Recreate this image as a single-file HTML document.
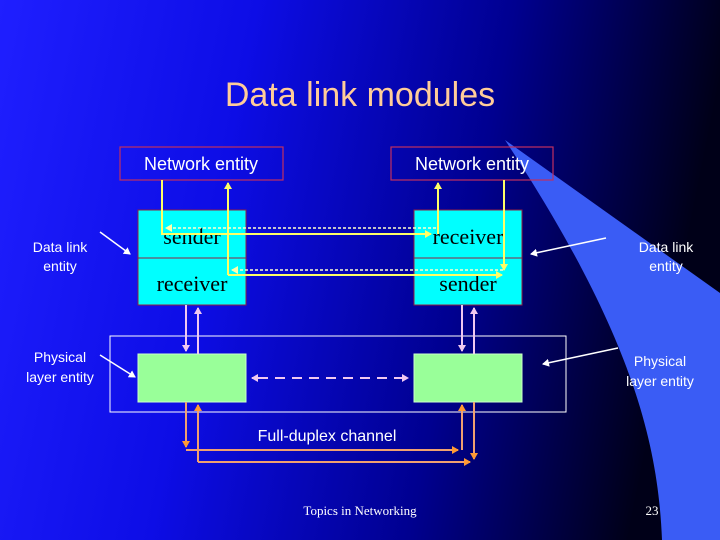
<!DOCTYPE html>
<html><head><meta charset="utf-8"><style>
html,body{margin:0;padding:0;width:720px;height:540px;overflow:hidden}
</style></head><body>
<svg width="720" height="540" viewBox="0 0 720 540" xmlns="http://www.w3.org/2000/svg">
<defs>
<linearGradient id="bg" x1="0" y1="0" x2="1" y2="0.15">
<stop offset="0" stop-color="#1f1fff"/>
<stop offset="0.35" stop-color="#0d0de6"/>
<stop offset="0.7" stop-color="#000090"/>
<stop offset="1" stop-color="#000018"/>
</linearGradient>
<marker id="ay" markerWidth="8" markerHeight="8" refX="6" refY="4" orient="auto" markerUnits="userSpaceOnUse"><path d="M0,0 L7,4 L0,8 Z" fill="#ffff66"/></marker>
<marker id="aw" markerWidth="8" markerHeight="8" refX="6" refY="4" orient="auto" markerUnits="userSpaceOnUse"><path d="M0,0 L7,4 L0,8 Z" fill="#ffffff"/></marker>
<marker id="ap" markerWidth="8" markerHeight="8" refX="6" refY="4" orient="auto" markerUnits="userSpaceOnUse"><path d="M0,0 L7,4 L0,8 Z" fill="#f0c8f0"/></marker>
<marker id="ao" markerWidth="8" markerHeight="8" refX="6" refY="4" orient="auto" markerUnits="userSpaceOnUse"><path d="M0,0 L7,4 L0,8 Z" fill="#ff9933"/></marker>
<marker id="ad" markerWidth="8" markerHeight="8" refX="6" refY="4" orient="auto" markerUnits="userSpaceOnUse"><path d="M0,0 L7,4 L0,8 Z" fill="#ffffaa"/></marker>
</defs>
<rect width="720" height="540" fill="url(#bg)"/>
<path d="M505,140 L720,293 L720,540 L662,540 C658,440 630,330 505,140 Z" fill="#3a5cf5"/>
<text x="360" y="106" font-family="Liberation Sans, sans-serif" font-size="34" fill="#ffcc99" text-anchor="middle">Data link modules</text>

<g font-family="Liberation Sans, sans-serif" font-size="18" fill="#fff" text-anchor="middle">
<rect x="120" y="147" width="163" height="33" fill="none" stroke="#c03060" stroke-width="1.2"/>
<text x="201" y="170">Network entity</text>
<rect x="391" y="147" width="162" height="33" fill="none" stroke="#c03060" stroke-width="1.2"/>
<text x="472" y="170">Network entity</text>
</g>

<g stroke="#902040" stroke-width="1">
<rect x="138" y="210" width="108" height="95" fill="#00ffff"/>
<line x1="138" y1="258" x2="246" y2="258"/>
<rect x="414" y="210" width="108" height="95" fill="#00ffff"/>
<line x1="414" y1="258" x2="522" y2="258"/>
</g>
<g font-family="Liberation Serif, serif" font-size="22" fill="#000" text-anchor="middle">
<text x="192" y="244">sender</text>
<text x="192" y="291">receiver</text>
<text x="468" y="244">receiver</text>
<text x="468" y="291">sender</text>
</g>

<g fill="none" stroke="#ffff66" stroke-width="2">
<path d="M162,180 L162,234 L431,234" marker-end="url(#ay)"/>
<path d="M438,234 L438,183" marker-end="url(#ay)"/>
<path d="M228,275 L228,183" marker-end="url(#ay)"/>
<path d="M228,275 L502,275" marker-end="url(#ay)"/>
<path d="M504,180 L504,270" marker-end="url(#ay)"/>
</g>
<g fill="none" stroke="#ffffcc" stroke-width="1.5" stroke-dasharray="3,2">
<path d="M436,228 L166,228" marker-end="url(#ad)"/>
<path d="M503,270 L232,270" marker-end="url(#ad)"/>
</g>

<rect x="110" y="336" width="456" height="76" fill="none" stroke="#fff" stroke-width="1"/>
<rect x="138" y="354" width="108" height="48" fill="#99ff99" stroke="#ccffcc" stroke-width="1"/>
<rect x="414" y="354" width="108" height="48" fill="#99ff99" stroke="#ccffcc" stroke-width="1"/>

<g fill="none" stroke="#f0c8f0" stroke-width="2">
<path d="M186,305 L186,351" marker-end="url(#ap)"/>
<path d="M198,354 L198,308" marker-end="url(#ap)"/>
<path d="M462,305 L462,351" marker-end="url(#ap)"/>
<path d="M474,354 L474,308" marker-end="url(#ap)"/>
<path d="M258,378 L408,378" stroke-dasharray="10,7" marker-end="url(#ap)"/>
<path d="M258,378 L252,378" marker-end="url(#ap)"/>
</g>

<g fill="none" stroke="#f0a070" stroke-width="2">
<path d="M186,402 L186,447" marker-end="url(#ao)"/>
<path d="M186,450 L458,450" marker-end="url(#ao)"/>
<path d="M462,450 L462,405" marker-end="url(#ao)"/>
<path d="M198,462 L198,405" marker-end="url(#ao)"/>
<path d="M198,462 L470,462" marker-end="url(#ao)"/>
<path d="M474,402 L474,459" marker-end="url(#ao)"/>
</g>

<g font-family="Liberation Sans, sans-serif" fill="#fff" text-anchor="middle">
<text x="327" y="441" font-size="16">Full-duplex channel</text>
<g font-size="14">
<text x="60" y="252">Data link</text><text x="60" y="271">entity</text>
<text x="60" y="362">Physical</text><text x="60" y="382">layer entity</text>
<text x="666" y="252">Data link</text><text x="666" y="271">entity</text>
<text x="660" y="366">Physical</text><text x="660" y="386">layer entity</text>
</g>
</g>
<g stroke="#fff" stroke-width="1.5" fill="none">
<path d="M100,232 L130,254" marker-end="url(#aw)"/>
<path d="M100,355 L135,377" marker-end="url(#aw)"/>
<path d="M606,238 L531,254" marker-end="url(#aw)"/>
<path d="M618,348 L543,364" marker-end="url(#aw)"/>
</g>
<text x="360" y="515" font-family="Liberation Serif, serif" font-size="13" fill="#fff" text-anchor="middle">Topics in Networking</text>
<text x="652" y="515" font-family="Liberation Serif, serif" font-size="13" fill="#fff" text-anchor="middle">23</text>
</svg>
</body></html>
